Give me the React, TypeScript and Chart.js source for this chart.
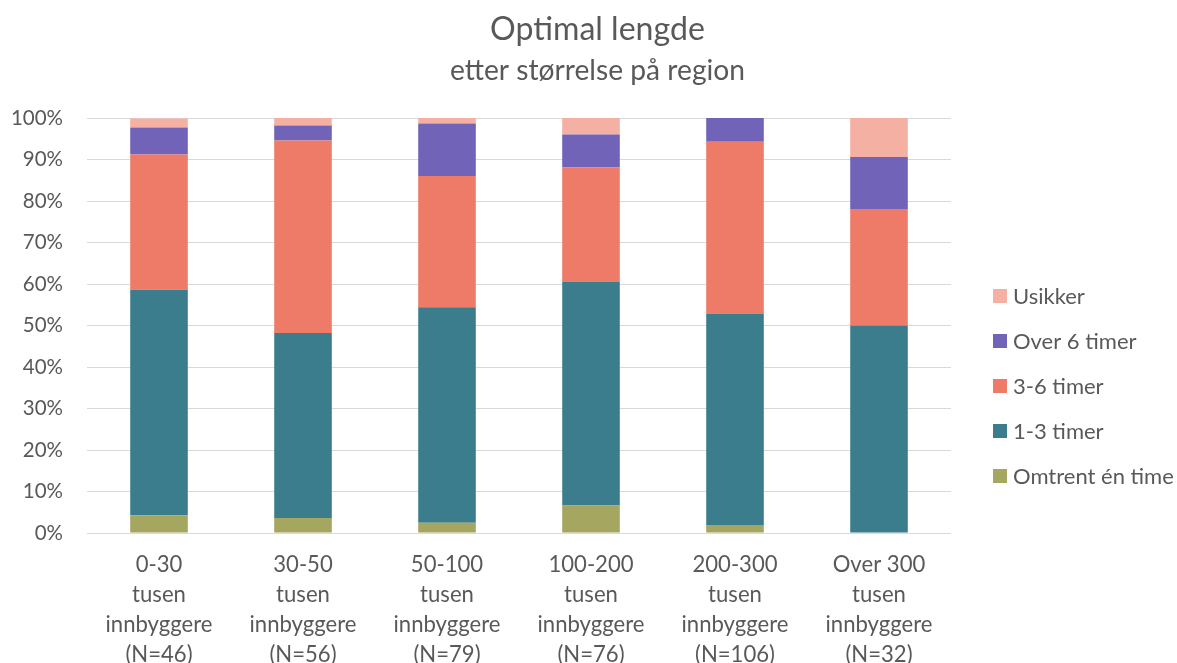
import React, { useEffect, useRef } from "react";
import { Chart, registerables } from "chart.js";

Chart.register(...registerables);

const titleText = "Optimal lengde";
const subtitleText = "etter størrelse på region";

const categories: string[][] = [
  ["0-30", "tusen", "innbyggere", "(N=46)"],
  ["30-50", "tusen", "innbyggere", "(N=56)"],
  ["50-100", "tusen", "innbyggere", "(N=79)"],
  ["100-200", "tusen", "innbyggere", "(N=76)"],
  ["200-300", "tusen", "innbyggere", "(N=106)"],
  ["Over 300", "tusen", "innbyggere", "(N=32)"],
];

const seriesNames = ["Omtrent én time", "1-3 timer", "3-6 timer", "Over 6 timer", "Usikker"];
const omtrentEnTime = [4.3, 3.6, 2.5, 6.6, 1.9, 0];
const timer1til3 = [54.3, 44.6, 51.9, 53.9, 50.9, 50.0];
const timer3til6 = [32.6, 46.4, 31.6, 27.6, 41.5, 28.1];
const over6Timer = [6.5, 3.6, 12.7, 7.9, 5.7, 12.5];
const usikker = [2.2, 1.8, 1.3, 4.0, 0, 9.4];
const seriesColors = ["#A5A65F", "#3B7D8C", "#EE7B67", "#7063B8", "#F4B1A3"];

const FONT = "Lato, 'Open Sans', sans-serif";
const TEXT = "#595959";

function fitSize(text: string, target: number): number {
  const ctx = document.createElement("canvas").getContext("2d")!;
  ctx.font = `100px ${FONT}`;
  const w = ctx.measureText(text).width;
  return Math.round((target / w) * 1000) / 10;
}

export default function App() {
  const ref = useRef<HTMLCanvasElement | null>(null);

  useEffect(() => {
    document.body.style.margin = "0";
    const canvas = ref.current!;
    const xSize = fitSize("innbyggere", 107);
    const ySize = fitSize("100%", 52);
    const legSize = fitSize("Omtrent én time", 161);
    const tSize = fitSize(titleText, 215);
    const sSize = fitSize(subtitleText, 295);

    const overlay = {
      id: "overlay",
      afterDraw(chart: any) {
        const ctx = chart.ctx as CanvasRenderingContext2D;
        ctx.save();
        ctx.fillStyle = TEXT;
        ctx.textAlign = "center";
        ctx.textBaseline = "alphabetic";
        ctx.font = `${tSize}px ${FONT}`;
        ctx.fillText(titleText, 597.5, 40);
        ctx.font = `${sSize}px ${FONT}`;
        ctx.fillText(subtitleText, 597.5, 80);
        // legend (reversed order)
        const ds = chart.data.datasets;
        ctx.textAlign = "left";
        ctx.textBaseline = "middle";
        ctx.font = `${legSize}px ${FONT}`;
        for (let i = 0; i < ds.length; i++) {
          const d = ds[ds.length - 1 - i];
          const cy = 296 + i * 45;
          ctx.fillStyle = d.backgroundColor;
          ctx.fillRect(993, cy - 7, 14, 14);
          ctx.fillStyle = TEXT;
          ctx.fillText(d.label, 1013, cy + 1);
        }
        ctx.restore();
      },
    };

    const seriesData = [omtrentEnTime, timer1til3, timer3til6, over6Timer, usikker];

    const chart = new Chart(canvas, {
      type: "bar",
      data: {
        labels: categories,
        datasets: seriesNames.map((name, i) => ({
          label: name,
          data: seriesData[i],
          backgroundColor: seriesColors[i],
          borderWidth: 0,
          barPercentage: 0.4,
          categoryPercentage: 1,
        })),
      },
      options: {
        responsive: false,
        animation: false,
        devicePixelRatio: 1,
        layout: { padding: { top: 118, right: 226, bottom: 0, left: 0 } },
        plugins: {
          legend: { display: false },
          title: { display: false },
          tooltip: { enabled: false },
        },
        scales: {
          x: {
            stacked: true,
            grid: { display: false, drawTicks: false },
            border: { display: false },
            ticks: {
              color: TEXT,
              padding: 17,
              maxRotation: 0,
              autoSkip: false,
              font: { family: FONT, size: xSize, lineHeight: "30px" },
            },
            afterFit: (s: any) => {
              s.height = 130;
            },
          },
          y: {
            stacked: true,
            min: 0,
            max: 100,
            grid: { color: "#D9D9D9", lineWidth: 1, drawTicks: false },
            border: { display: false },
            ticks: {
              stepSize: 10,
              color: TEXT,
              padding: 24,
              font: { family: FONT, size: ySize },
              callback: (v: any) => `${v}%`,
            },
            afterFit: (s: any) => {
              s.width = 87;
            },
          },
        },
      },
      plugins: [overlay],
    } as any);

    return () => chart.destroy();
  }, []);

  return (
    <div style={{ width: 1177, height: 663 }}>
      <canvas ref={ref} width={1177} height={663} style={{ display: "block" }} />
    </div>
  );
}
